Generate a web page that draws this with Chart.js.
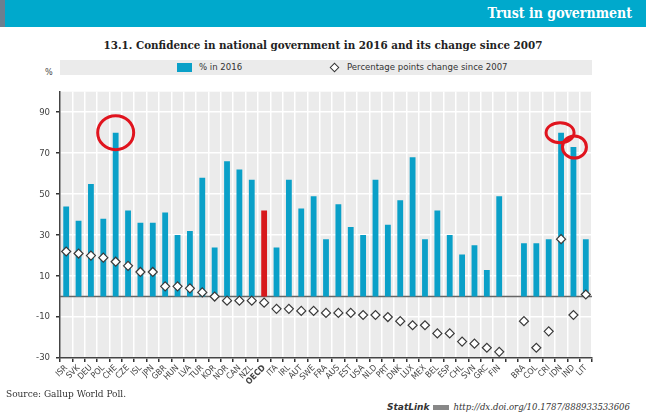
<!DOCTYPE html>
<html>
<head>
<meta charset="utf-8">
<script src="https://cdn.jsdelivr.net/npm/chart.js@4.4.1/dist/chart.umd.min.js"></script>
<style>
  body { margin: 0; width: 646px; height: 420px; background: #fff; position: relative; overflow: hidden; font-family: "DejaVu Sans Condensed", sans-serif; }
  #header { position: absolute; left: 0; top: 0; width: 646px; height: 27px; background: #00a9cc; }
  #header .edge { position: absolute; left: 0; top: 0; width: 5px; height: 27px; background: #6c7f8f; }
  #header span { position: absolute; right: 14px; top: 5px; color: #fff; font: bold 14px "DejaVu Serif Condensed", "DejaVu Serif", serif; }
  #title { position: absolute; left: 0; width: 646px; top: 38px; text-align: center; font: bold 11.5px "DejaVu Serif Condensed", serif; color: #222; }
  #legend { position: absolute; left: 60px; top: 60px; width: 532px; height: 15px; background: #ebebeb; font-size: 9.5px; color: #333; }
  #legend .sq { position: absolute; left: 117px; top: 3px; width: 15px; height: 9px; background: #0aa0c8; }
  #legend .t1 { position: absolute; left: 139px; top: 1px; }
  #legend .dm { position: absolute; left: 271px; top: 4px; width: 5px; height: 5px; border: 1.2px solid #333; transform: rotate(45deg); background: #fff; }
  #legend .t2 { position: absolute; left: 287px; top: 1px; }
  #pct { position: absolute; left: 45px; top: 67px; font-size: 9px; color: #444; }
  #wrap { position: absolute; left: 0; top: 80px; width: 646px; height: 310px; }
  #source { position: absolute; left: 6px; top: 388px; font: 10px "DejaVu Serif Condensed", serif; color: #333; }
  #statlink { position: absolute; right: 16px; top: 401px; font: italic 9.5px "DejaVu Serif Condensed", serif; color: #333; }
  #statlink b { font: bold italic 9px "DejaVu Sans", sans-serif; margin-right: 4px; }
  #statlink i.ic { display: inline-block; width: 16px; height: 5px; background: #888; margin-right: 4px; vertical-align: middle; }
</style>
</head>
<body>
<div id="header"><div class="edge"></div><span>Trust in government</span></div>
<div id="title">13.1. Confidence in national government in 2016 and its change since 2007</div>
<div id="pct">%</div>
<div id="legend"><div class="sq"></div><span class="t1">% in 2016</span><div class="dm"></div><span class="t2">Percentage points change since 2007</span></div>
<div id="wrap"><canvas id="chart"></canvas></div>
<div id="source">Source: Gallup World Poll.</div>
<div id="statlink"><b>StatLink</b><i class="ic"></i>http://dx.doi.org/10.1787/888933533606</div>
<script>
var countries = ['ISR','SVK','DEU','POL','CHE','CZE','ISL','JPN','GBR','HUN','LVA','TUR','KOR','NOR','CAN','NZL','OECD','ITA','IRL','AUT','SWE','FRA','AUS','EST','USA','NLD','PRT','DNK','LUX','MEX','BEL','ESP','CHL','SVN','GRC','FIN','','BRA','COL','CRI','IDN','IND','LIT'];
var trust2016 = [44,37,55,38,80,42,36,36,41,30,32,58,24,66,62,57,42,24,57,43,49,28,45,34,30,57,35,47,68,28,42,30,20.5,25,13,49,null,26,26,28,80,73,28];
var change2007 = [22,21,20,19,17,15,12,12,5,5,4,2,0,-2,-2,-2,-3,-6,-6,-7,-7,-8,-8,-8,-9,-9,-10,-12,-14,-14,-18,-18,-22,-23,-25,-27,null,-12,-25,-17,28,-9,1];
var yTicks = [-30,-10,10,30,50,70,90];

var barColors = countries.map(function(c){ return c === 'OECD' ? '#d7191c' : '#0aa0c8'; });

var bgPlugin = {
  id: 'bg',
  beforeDraw: function(chart){
    var a = chart.chartArea, ctx = chart.ctx;
    ctx.save();
    ctx.fillStyle = '#ebebeb';
    ctx.fillRect(a.left, a.top, a.right - a.left, a.bottom - a.top);
    ctx.restore();
  }
};

var zeroPlugin = {
  id: 'zero',
  beforeDatasetsDraw: function(chart){
    var a = chart.chartArea, ctx = chart.ctx;
    var y = chart.scales.y.getPixelForValue(0);
    ctx.save();
    ctx.strokeStyle = '#666';
    ctx.lineWidth = 1.5;
    ctx.beginPath();
    ctx.moveTo(a.left, y);
    ctx.lineTo(a.right, y);
    ctx.stroke();
    ctx.restore();
  }
};

// red hand-drawn circles in the original
var circlePlugin = {
  id: 'circles',
  afterDraw: function(chart){
    var ctx = chart.ctx, x = chart.scales.x, y = chart.scales.y;
    var marks = [['CHE', 0, 18, 17], ['IDN', -1, 14, 10], ['IND', 1, 12, 11]];
    ctx.save();
    ctx.strokeStyle = '#e0141e';
    ctx.lineWidth = 3;
    marks.forEach(function(m){
      var i = countries.indexOf(m[0]);
      var cx = x.getPixelForValue(i) + m[1];
      var cy = y.getPixelForValue(trust2016[i]);
      ctx.beginPath();
      ctx.ellipse(cx, cy, m[2], m[3], 0, 0, Math.PI * 2);
      ctx.stroke();
    });
    ctx.restore();
  }
};

var config = {
  type: 'bar',
  data: {
    labels: countries,
    datasets: [{
      type: 'line',
      label: 'Percentage points change since 2007',
      data: change2007,
      showLine: false,
      pointStyle: 'rectRot',
      pointRadius: 4.5,
      pointBackgroundColor: '#fff',
      pointBorderColor: '#3a3a3a',
      pointBorderWidth: 1.2,
      order: 0
    }, {
      label: '% in 2016',
      data: trust2016,
      backgroundColor: barColors,
      barPercentage: 0.47,
      categoryPercentage: 1,
      order: 1
    }]
  },
  options: {
    responsive: true,
    maintainAspectRatio: false,
    animation: false,
    layout: { padding: { top: 3, right: 54, left: 0, bottom: 0 } },
    plugins: { legend: { display: false }, tooltip: { enabled: false } },
    scales: {
      x: {
        offset: true,
        grid: { color: '#fff', lineWidth: 1.5, tickColor: '#333', tickLength: 4, offset: true },
        border: { color: '#444', width: 1.5 },
        ticks: {
          autoSkip: false, maxRotation: 45, minRotation: 45, padding: 1, color: '#444',
          font: function(ctx){
            var lab = countries[ctx.index];
            return { family: '"DejaVu Sans Condensed", sans-serif', size: 8.5, weight: lab === 'OECD' ? 'bold' : 'normal' };
          }
        },
        afterFit: function(s){ s.height = 32; }
      },
      y: {
        min: -30, max: 100,
        afterBuildTicks: function(s){ s.ticks = yTicks.map(function(v){ return { value: v }; }); },
        grid: { color: '#fff', lineWidth: 1.5, tickColor: '#333', tickLength: 4 },
        border: { color: '#444', width: 1.5 },
        ticks: { color: '#444', padding: 6, font: { family: '"DejaVu Sans Condensed", sans-serif', size: 9.5 } },
        afterFit: function(s){ s.width = 60; }
      }
    }
  },
  plugins: [bgPlugin, zeroPlugin, circlePlugin]
};

var ctx = document.getElementById('chart').getContext('2d');
window.myChart = new Chart(ctx, config);
</script>
</body>
</html>
